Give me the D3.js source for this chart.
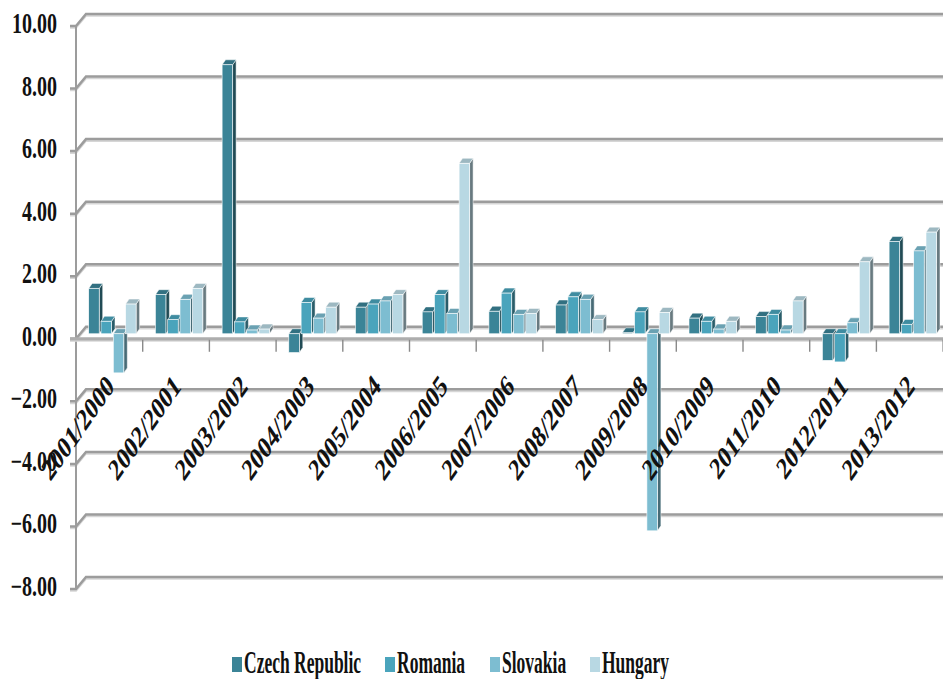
<!DOCTYPE html>
<html>
<head>
<meta charset="utf-8">
<script src="https://cdn.jsdelivr.net/npm/d3@7"></script>
<style>
  html, body { margin: 0; padding: 0; background: #ffffff; }
  svg { display: block; }
  text { font-family: "Liberation Serif", "Times New Roman", serif; font-weight: bold; fill: #111111; }
</style>
</head>
<body>
<svg id="chart" width="943" height="679"></svg>
<script>
// Year-on-year change by period and country
const categories = ["2001/2000", "2002/2001", "2003/2002", "2004/2003", "2005/2004", "2006/2005",
  "2007/2006", "2008/2007", "2009/2008", "2010/2009", "2011/2010", "2012/2011", "2013/2012"];
const seriesNames = ["Czech Republic", "Romania", "Slovakia", "Hungary"];
const czech    = [1.45, 1.25, 8.60, -0.60, 0.85, 0.70, 0.72, 0.92, 0.03, 0.50, 0.55, -0.85, 2.95];
const romania  = [0.40, 0.45, 0.38, 1.00, 0.95, 1.25, 1.30, 1.18, 0.70, 0.40, 0.62, -0.90, 0.30];
const slovakia = [-1.25, 1.10, 0.12, 0.50, 1.05, 0.65, 0.62, 1.10, -6.30, 0.15, 0.12, 0.35, 2.65];
const hungary  = [0.95, 1.45, 0.15, 0.85, 1.25, 5.45, 0.65, 0.45, 0.68, 0.40, 1.05, 2.30, 3.25];
const yTickValues = [10, 8, 6, 4, 2, 0, -2, -4, -6, -8];
const seriesColors = ["#3b8497", "#4aa4bc", "#7dbdd1", "#b8d8e3"];

const seriesValues = [czech, romania, slovakia, hungary];

const svg = d3.select("#chart");

// Geometry of the pseudo-3D box
const frontX = 76;               // front edge of the left wall
const wallDX = 10, wallDY = -12; // back wall offset from the front edge
const barDX = 3.5, barDY = -5;   // depth of each column
const barShiftY = 7;             // column plane sits between front and back

// Back-wall value scale
const y = d3.scaleLinear().domain([-8, 10]).range([577, 14]);
const yBar = v => y(v) + barShiftY;

// Category bands along the front edge
const x = d3.scaleBand().domain(categories).range([frontX, frontX + 13 * 66.7]).padding(0);

const gridColor = "#9c9c9c";

// Gridlines: diagonal on the side wall, then across the back wall
const grid = svg.append("g");
yTickValues.forEach(v => {
  const yb = y(v), yf = yb - wallDY;
  grid.append("path")
    .attr("d", `M${frontX - 6},${yf + 1.8} L${frontX},${yf + 1.8} L${frontX + wallDX},${yb + 1.8} L943,${yb + 1.8}`)
    .attr("fill", "none").attr("stroke", "#d6d6d6").attr("stroke-width", 2);
  grid.append("path")
    .attr("d", `M${frontX - 6},${yf} L${frontX},${yf} L${frontX + wallDX},${yb} L943,${yb}`)
    .attr("fill", "none").attr("stroke", gridColor).attr("stroke-width", 2.5);
});

// Left wall front edge
grid.append("line")
  .attr("x1", frontX).attr("x2", frontX)
  .attr("y1", y(10) - wallDY).attr("y2", y(-8) - wallDY)
  .attr("stroke", gridColor).attr("stroke-width", 2);

// Floor front edge at zero
const floorY = y(0) - wallDY;
grid.append("line")
  .attr("x1", frontX - 6).attr("x2", 943)
  .attr("y1", floorY + 2).attr("y2", floorY + 2)
  .attr("stroke", "#d8d8d8").attr("stroke-width", 2);
grid.append("line")
  .attr("x1", frontX - 6).attr("x2", 943)
  .attr("y1", floorY).attr("y2", floorY)
  .attr("stroke", "#adadad").attr("stroke-width", 3.2);

// Category tick marks below the floor
const tickXs = categories.map(c => x(c)).concat([x(categories[categories.length - 1]) + x.bandwidth()]);
grid.selectAll("line.ctick").data(tickXs.slice(1)).join("line")
  .attr("class", "ctick")
  .attr("x1", d => d).attr("x2", d => d)
  .attr("y1", floorY + 1).attr("y2", floorY + 13)
  .attr("stroke", "#8a8a8a").attr("stroke-width", 1.4);

// Columns
const barW = 10.5, barStep = 12.3, groupOffset = 12.7;
const bars = svg.append("g");
categories.forEach((c, i) => {
  seriesValues.forEach((vals, j) => {
    const v = vals[i];
    const x0 = x(c) + groupOffset + j * barStep;
    const x1 = x0 + barW;
    const yTop = v >= 0 ? yBar(v) : yBar(0);
    const yBot = v >= 0 ? yBar(0) : yBar(v);
    const base = d3.color(seriesColors[j]);
    const g = bars.append("g");
    // right side face
    g.append("path")
      .attr("d", `M${x1},${yTop} L${x1 + barDX},${yTop + barDY} L${x1 + barDX},${yBot + barDY} L${x1},${yBot} Z`)
      .attr("fill", base.darker(1.6)).attr("stroke", "#ffffff").attr("stroke-width", 0.5);
    // top face
    g.append("path")
      .attr("d", `M${x0},${yTop} L${x0 + barDX},${yTop + barDY} L${x1 + barDX},${yTop + barDY} L${x1},${yTop} Z`)
      .attr("fill", base.darker(0.45)).attr("stroke", "#ffffff").attr("stroke-width", 0.5);
    // front face
    g.append("rect")
      .attr("x", x0).attr("y", yTop)
      .attr("width", barW).attr("height", Math.max(0.5, yBot - yTop))
      .attr("fill", base).attr("stroke", "#ffffff").attr("stroke-width", 0.6);
  });
});

// Value axis labels
const fmt = d3.format(".2f");
svg.append("g").selectAll("text").data(yTickValues).join("text")
  .attr("text-anchor", "end")
  .attr("font-size", 20)
  .attr("transform", d => `translate(57,${y(d) - wallDY + 7}) scale(1,1.42)`)
  .text(d => fmt(d));

// Category labels, slanted
svg.append("g").selectAll("text").data(categories).join("text")
  .attr("text-anchor", "end")
  .attr("font-size", 21.5)
  .attr("transform", d => `translate(${x(d) + x.bandwidth() / 2 + 6},388) scale(1,1.45) rotate(-45)`)
  .text(d => d);

// Legend
const legendX = [232, 385, 490, 590];
const legend = svg.append("g");
seriesNames.forEach((name, j) => {
  legend.append("rect")
    .attr("x", legendX[j]).attr("y", 657)
    .attr("width", 10).attr("height", 15)
    .attr("fill", seriesColors[j]);
  legend.append("text")
    .attr("font-size", 17.5)
    .attr("transform", `translate(${legendX[j] + 12},673) scale(1,1.8)`)
    .text(name);
});
</script>
</body>
</html>
